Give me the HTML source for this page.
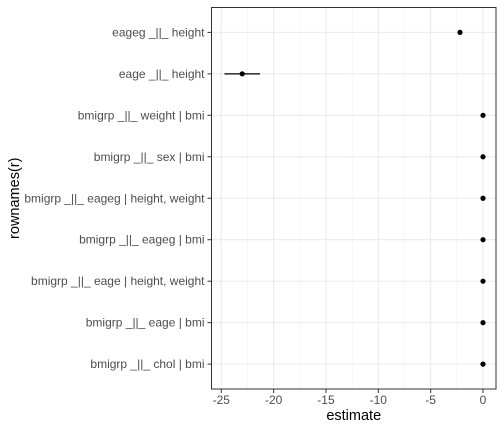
<!DOCTYPE html>
<html><head><meta charset="utf-8"><style>
body{margin:0;background:#fff;}
svg{display:block;font-family:"Liberation Sans",sans-serif;}
</style></head><body>
<svg id="chart" width="504" height="432"></svg>
<script>
const categories=["eageg _||_ height","eage _||_ height","bmigrp _||_ weight | bmi","bmigrp _||_ sex | bmi","bmigrp _||_ eageg | height, weight","bmigrp _||_ eageg | bmi","bmigrp _||_ eage | height, weight","bmigrp _||_ eage | bmi","bmigrp _||_ chol | bmi"];
const estimates=[-2.2,-23.0,0,0,0,0,0,0,0];
const lower=[-2.2,-24.7,0,0,0,0,0,0,0];
const upper=[-2.2,-21.3,0,0,0,0,0,0,0];
const xTicks=[-25,-20,-15,-10,-5,0];
const NS="http://www.w3.org/2000/svg";
const svg=document.getElementById('chart');
const L=211.5,R=496,T=7.5,B=389;
const x=v=>483+(v-0)*(483-221.3)/25;
const step=(B-T)/(categories.length+0.2);
const y=i=>T+step*(0.6+i);
function mk(t,a,p){const e=document.createElementNS(NS,t);for(const k in a)e.setAttribute(k,a[k]);(p||svg).appendChild(e);return e;}
let bg=mk('rect',{x:L,y:T,width:R-L,height:B-T,fill:'#fff'});


for(let v=-27.5;v<=2.5;v+=5){if(x(v)<L||x(v)>R)continue;let g=mk('line',{x1:x(v),x2:x(v),y1:T,y2:B,stroke:'#f0f0f0','stroke-width':0.6});

}
xTicks.forEach(v=>{let g=mk('line',{x1:x(v),x2:x(v),y1:T,y2:B,stroke:'#ebebeb','stroke-width':1.1});


let t=mk('line',{x1:x(v),x2:x(v),y1:B,y2:B+4,stroke:'#333','stroke-width':1});


let lb=mk('text',{x:x(v),y:B+15,'text-anchor':'middle','font-size':12,fill:'#4d4d4d'});lb.textContent=v;

});
categories.forEach((c,i)=>{let g=mk('line',{x1:L,x2:R,y1:y(i),y2:y(i),stroke:'#ebebeb','stroke-width':1.1});


let t=mk('line',{x1:L-4,x2:L,y1:y(i),y2:y(i),stroke:'#333','stroke-width':1});


let lb=mk('text',{x:L-7,y:y(i)+4,'text-anchor':'end','font-size':12,fill:'#4d4d4d'});lb.textContent=c;

});
categories.forEach((c,i)=>{
let e=mk('line',{x1:x(lower[i]),x2:x(upper[i]),y1:y(i),y2:y(i),stroke:'#000','stroke-width':1.2});


let p=mk('circle',{cx:x(estimates[i]),cy:y(i),r:2.6,fill:'#000'});

});
let br=mk('rect',{x:L,y:T,width:R-L,height:B-T,fill:'none',stroke:'#333','stroke-width':1});


let xt=mk('text',{x:(L+R)/2,y:420,'text-anchor':'middle','font-size':14.5,fill:'#000'});xt.textContent='estimate';


let yt=mk('text',{x:0,y:0,'text-anchor':'middle','font-size':14.5,fill:'#000',transform:`translate(19,${(T+B)/2}) rotate(-90)`});yt.textContent='rownames(r)';


</script>
</body></html>
